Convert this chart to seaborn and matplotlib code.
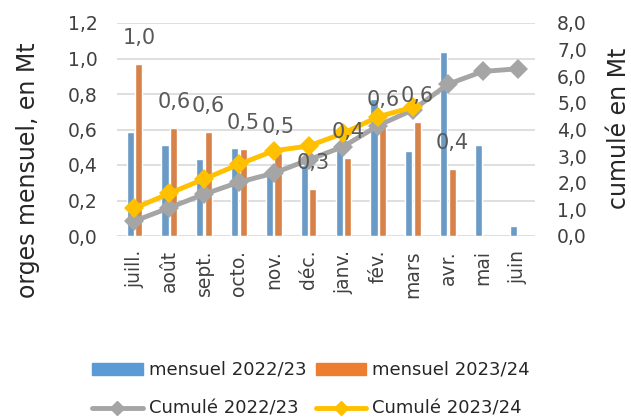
import numpy as np
import pandas as pd
import seaborn as sns
import matplotlib
matplotlib.use("Agg")
import matplotlib.pyplot as plt
from matplotlib.lines import Line2D
from matplotlib.patches import Patch

# Données
mois = ["juill.", "août", "sept.", "octo.", "nov.", "déc.", "janv.", "fév.", "mars", "avr.", "mai", "juin"]
mensuel_2223 = [0.585, 0.515, 0.434, 0.498, 0.37, 0.40, 0.50, 0.77, 0.48, 1.035, 0.513, 0.058]
mensuel_2324 = [0.97, 0.609, 0.587, 0.491, 0.465, 0.265, 0.44, 0.62, 0.64, 0.38]
cumul_2223 = [0.56, 1.06, 1.57, 2.02, 2.36, 2.86, 3.36, 4.15, 4.74, 5.70, 6.18, 6.28]
cumul_2324 = [1.04, 1.60, 2.14, 2.69, 3.20, 3.38, 3.86, 4.48, 4.84]
etiquettes = ["1,0", "0,6", "0,6", "0,5", "0,5", "0,3", "0,4", "0,6", "0,6", "0,4"]

bleu = "#5B9BD5"
orange = "#ED7D31"
gris = "#A5A5A5"
jaune = "#FFC000"
texte = "#404040"

sns.set_style("white")
plt.rcParams["font.family"] = ["DejaVu Sans"]

# table longue pour le barplot
df = pd.concat([
    pd.DataFrame({"mois": mois, "valeur": mensuel_2223, "serie": "mensuel 2022/23"}),
    pd.DataFrame({"mois": mois[:len(mensuel_2324)], "valeur": mensuel_2324, "serie": "mensuel 2023/24"}),
])

fig = plt.figure(figsize=(6.31, 4.20), dpi=100)
ax = fig.add_axes([117/631, 1 - 236/420, 418/631, 213/420])

sns.barplot(data=df, x="mois", y="valeur", hue="serie", order=mois,
            hue_order=["mensuel 2022/23", "mensuel 2023/24"],
            palette=[bleu, orange], width=0.49, gap=0.15, ax=ax, legend=False)

ax.set_ylim(0, 1.2)
ax.set_xlim(-0.5, 11.5)
ax.set_yticks(np.arange(0, 1.21, 0.2))
ax.set_yticklabels([f"{v:.1f}".replace(".", ",") for v in np.arange(0, 1.21, 0.2)])
ax.yaxis.grid(True, color="#D9D9D9", linewidth=1.2)
ax.set_axisbelow(True)
for s in ax.spines.values():
    s.set_visible(False)
ax.tick_params(axis="y", length=0, pad=14, labelsize=13.5, labelcolor=texte)
ax.tick_params(axis="x", length=0, pad=10, labelsize=13.5, labelcolor=texte, rotation=90)
ax.set_xlabel("")
ax.set_ylabel("")

# axe secondaire : cumulés
ax2 = ax.twinx()
x = np.arange(len(mois))
sns.lineplot(x=x, y=cumul_2223, ax=ax2, color=gris, linewidth=3.5, marker="D",
             markersize=10.5, markeredgewidth=0)
sns.lineplot(x=x[:len(cumul_2324)], y=cumul_2324, ax=ax2, color=jaune, linewidth=3.5,
             marker="D", markersize=10.5, markeredgewidth=0)
ax2.set_ylim(0, 8)
ax2.set_xlim(-0.5, 11.5)
ax2.set_yticks(np.arange(0, 9, 1))
ax2.set_yticklabels([f"{v:.1f}".replace(".", ",") for v in range(9)])
for s in ax2.spines.values():
    s.set_visible(False)
ax2.tick_params(axis="y", length=0, pad=16, labelsize=13.5, labelcolor=texte)

# étiquettes des barres 2023/24
for i, (v, lab) in enumerate(zip(mensuel_2324, etiquettes)):
    ax2.annotate(lab, xy=(i + 0.13, v), xycoords=ax.transData, xytext=(0, 26),
                 textcoords="offset pixels", ha="center", va="center",
                 fontsize=15, color="#595959", zorder=10)

fig.text(28/631, 1 - 170/420, "orges mensuel, en Mt", rotation=90, ha="center",
         va="center", fontsize=17, color="#262626")
fig.text(619/631, 1 - 128/420, "cumulé en Mt", rotation=90, ha="center",
         va="center", fontsize=17, color="#262626")

handles = [Patch(color=bleu), Line2D([], [], color=gris, lw=3.5, marker="D", markersize=7),
           Patch(color=orange), Line2D([], [], color=jaune, lw=3.5, marker="D", markersize=7)]
labels = ["mensuel 2022/23", "Cumulé 2022/23", "mensuel 2023/24", "Cumulé 2023/24"]
fig.legend(handles, labels, ncol=2, loc="upper left", bbox_to_anchor=(92/631, 1 - 361/420),
           frameon=False, fontsize=13, labelspacing=1.15, handlelength=2.8,
           handleheight=0.67, handletextpad=0.35, columnspacing=0.5, borderpad=0,
           borderaxespad=0, labelcolor="#262626")

fig.savefig("out.png", dpi=100)
